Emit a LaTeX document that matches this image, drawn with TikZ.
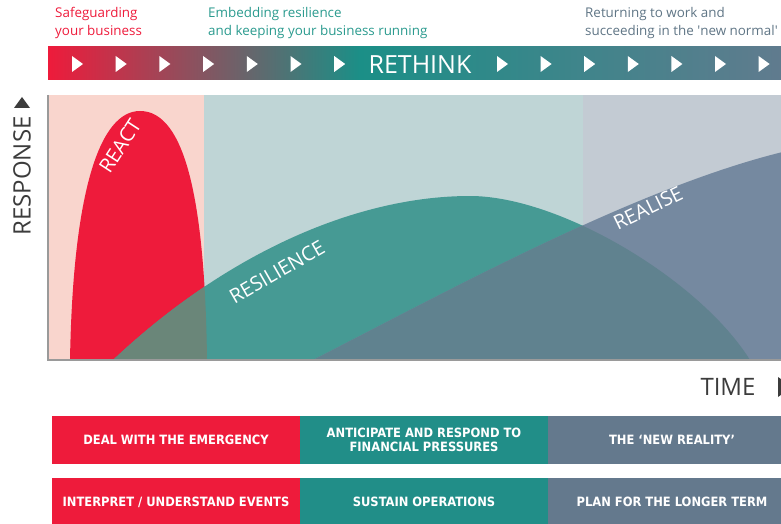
\documentclass[tikz,border=0pt]{standalone}
\usepackage{fontspec}
\setmainfont{Open Sans}
\newfontfamily\boxfont{DejaVu Sans Condensed}
\usepackage{tikz}
\usetikzlibrary{positioning}

\definecolor{reactred}{HTML}{EE1B3B}
\definecolor{resteal}{HTML}{469A94}
\definecolor{overlapgreen}{HTML}{6A8679}
\definecolor{realslate}{HTML}{7589A0}
\definecolor{overlapslate}{HTML}{60828F}
\definecolor{bgpink}{HTML}{F9D5CD}
\definecolor{bgteal}{HTML}{BFD5D6}
\definecolor{bggrey}{HTML}{C3CBD3}
\definecolor{barteal}{HTML}{1B8F87}
\definecolor{barslate}{HTML}{607B8E}
\definecolor{boxteal}{HTML}{218E88}
\definecolor{boxslate}{HTML}{64798D}
\definecolor{axisgrey}{HTML}{9A9A9A}
\definecolor{labelgrey}{HTML}{3C3C3C}
\definecolor{toptealtext}{HTML}{2A9A8E}
\definecolor{topslatetext}{HTML}{5F7585}

% curve outlines, in pixel coordinates
\newcommand{\reactpath}{(70,360) .. controls (73,190) and (100,111) .. (140,111) .. controls (185,111) and (205,200) .. (207,360) -- cycle}
\newcommand{\respath}{(113,360) .. controls (230,250) and (360,196) .. (470,196) .. controls (560,196) and (700,280) .. (750,360) -- cycle}
\newcommand{\realpath}{(313,360) .. controls (450,290) and (650,180) .. (800,148) -- (800,360) -- cycle}

\begin{document}
\begin{tikzpicture}[
    x=1pt, y=-1pt,
    toplabel/.style={anchor=north west, align=left, inner sep=0, font=\fontsize{13.4}{17.5}\selectfont},
    curvelabel/.style={text=white, inner sep=0, font=\fontsize{20}{20}\selectfont},
    axislabel/.style={text=labelgrey, inner sep=0, font=\fontsize{24}{24}\selectfont},
    box/.style={rectangle, minimum width=248pt, minimum height=48pt, inner sep=0, outer sep=0, align=center, text=white, font=\boxfont\bfseries\fontsize{12.8}{14.5}\selectfont},
    redbox/.style={box, fill=reactred},
    tealbox/.style={box, fill=boxteal},
    slatebox/.style={box, fill=boxslate}
]
    \useasboundingbox (0,0) rectangle (781,524);

    % phase headings
    \node[toplabel, text=reactred] (safeguard) at (55,7.5) {Safeguarding\\your business};
    \node[toplabel, text=toptealtext] (embed) at (208,7.5) {Embedding resilience\\and keeping your business running};
    \node[toplabel, text=topslatetext] (returning) at (585,7.5) {Returning to work and\\succeeding in the {\textquotesingle}new normal{\textquotesingle}};

    % rethink bar
    \shade[left color=reactred, right color=barteal] (48,47) rectangle (360,80);
    \shade[left color=barteal, right color=barslate] (360,47) rectangle (781,80);
    \foreach \i in {0,...,6} {
        \fill[white] ({72+43.7*\i},56) -- ++(11,8) -- ++(-11,8) -- cycle;
        \fill[white] ({497+43.6*\i},56) -- ++(11,8) -- ++(-11,8) -- cycle;
    }
    \node[text=white, inner sep=0, font=\fontsize{25}{25}\selectfont] (rethink) at (420,65) {RETHINK};

    % chart
    \begin{scope}
        \clip (48,95) rectangle (781,360);
        \fill[bgpink] (48,95) rectangle (204,360);
        \fill[bgteal] (204,95) rectangle (583,360);
        \fill[bggrey] (583,95) rectangle (781,360);
        \fill[reactred] \reactpath;
        \fill[resteal] \respath;
        \begin{scope}
            \clip \reactpath;
            \fill[overlapgreen] \respath;
        \end{scope}
        \fill[realslate] \realpath;
        \begin{scope}
            \clip \respath;
            \fill[overlapslate] \realpath;
        \end{scope}
    \end{scope}
    \draw[axisgrey, line width=1.2pt] (48,95) -- (48,360) -- (781,360);

    \node[curvelabel, rotate=57] (react) at (120,146) {REACT};
    \node[curvelabel, rotate=30] (resilience) at (277,272) {RESILIENCE};
    \node[curvelabel, rotate=26] (realise) at (648,208) {REALISE};

    % axes
    \node[axislabel, rotate=90] (response) at (22,176) {RESPONSE};
    \fill[labelgrey] (14,108) -- (30,108) -- (22,97) -- cycle;
    \node[axislabel] (time) at (728,387) {TIME};
    \fill[labelgrey] (778,377) -- (792,387) -- (778,397) -- cycle;

    % actions
    \node[redbox] (deal) at (176,440) {DEAL WITH THE EMERGENCY};
    \node[tealbox, right=0pt of deal] (anticipate) {ANTICIPATE AND RESPOND TO\\FINANCIAL PRESSURES};
    \node[slatebox, right=0pt of anticipate] (reality) {THE ‘NEW REALITY’};
    \node[redbox, below=14pt of deal] (interpret) {INTERPRET / UNDERSTAND EVENTS};
    \node[tealbox, right=0pt of interpret] (sustain) {SUSTAIN OPERATIONS};
    \node[slatebox, right=0pt of sustain] (plan) {PLAN FOR THE LONGER TERM};
\end{tikzpicture}
\end{document}
